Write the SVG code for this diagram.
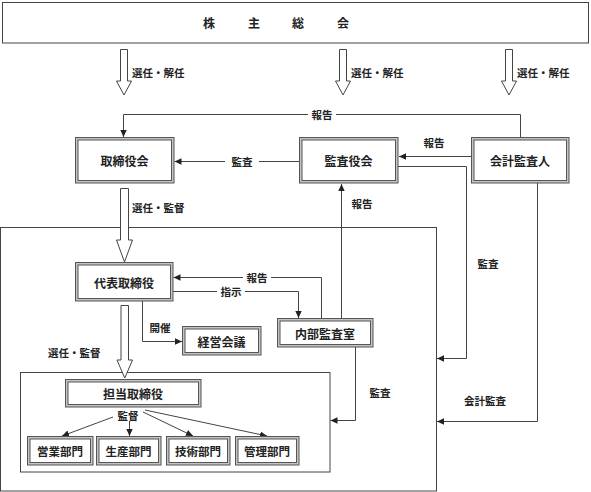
<svg xmlns="http://www.w3.org/2000/svg" width="591" height="492" viewBox="0 0 591 492">
<defs>
<style>
text{font-family:"Noto Sans CJK JP","Noto Sans CJK SC",sans-serif;fill:#222;font-weight:bold;dominant-baseline:central;text-anchor:middle}
.lbl{font-size:10.5px}
.bx{font-size:12px}
.dp{font-size:11.5px}
.o{fill:#c4c4c4;stroke:#555;stroke-width:1}
.i{fill:#fff;stroke:#555;stroke-width:1}
.frame{fill:none;stroke:#444;stroke-width:1}
.c{fill:none;stroke:#444;stroke-width:1}
.ha{fill:#fff;stroke:#444;stroke-width:1}
.bg{fill:#fff}
</style>
<marker id="ah" markerUnits="userSpaceOnUse" markerWidth="8" markerHeight="8" viewBox="0 0 8 8" refX="7" refY="4" orient="auto">
<path d="M0,0.8 L7,4 L0,7.2 z" fill="#222"/>
</marker>
</defs>

<g id="shareholders">
<rect class="frame" x="2.5" y="2.5" width="586" height="40.5"/>
<text class="bx" x="209" y="22">株</text>
<text class="bx" x="254" y="22">主</text>
<text class="bx" x="298" y="22">総</text>
<text class="bx" x="343" y="22">会</text>
</g>

<g id="outer-frame"><rect class="frame" x="0.5" y="227.5" width="436" height="263.5"/></g>
<g id="inner-frame"><rect class="frame" x="20.5" y="372.5" width="309.5" height="99.5"/></g>

<g id="hollow-arrows">
<polygon class="ha" points="120.5,49.5 127.5,49.5 127.5,81 131.5,81 124,95 116.5,81 120.5,81"/>
<polygon class="ha" points="339.5,49.5 346.5,49.5 346.5,81 350.5,81 343,95 335.5,81 339.5,81"/>
<polygon class="ha" points="505.5,49.5 512.5,49.5 512.5,81 516.5,81 509,95 501.5,81 505.5,81"/>
<polygon class="ha" points="120.5,188.5 128.5,188.5 128.5,240 132.5,240 124.5,262 116.5,240 120.5,240"/>
<polygon class="ha" points="121,305.5 128.5,305.5 128.5,360 132.5,360 124.75,378 117,360 121,360"/>
<text class="lbl" x="132" y="72" style="text-anchor:start">選任・解任</text>
<text class="lbl" x="351" y="72" style="text-anchor:start">選任・解任</text>
<text class="lbl" x="517" y="72" style="text-anchor:start">選任・解任</text>
<text class="lbl" x="132" y="207" style="text-anchor:start">選任・監督</text>
<text class="lbl" x="48" y="352" style="text-anchor:start">選任・監督</text>
</g>

<g id="connectors">
<path class="c" d="M520.5,137 V114.5 H123.5 V137" marker-end="url(#ah)"/>
<rect class="bg" x="308" y="108" width="28" height="13"/>
<text class="lbl" x="322" y="114.5">報告</text>

<path class="c" d="M299,161.5 H174.5" marker-end="url(#ah)"/>
<rect class="bg" x="225" y="155" width="34" height="13"/>
<text class="lbl" x="242" y="161.5">監査</text>

<path class="c" d="M471,156.5 H399" marker-end="url(#ah)"/>
<text class="lbl" x="434" y="142">報告</text>

<path class="c" d="M398,166.5 H466.5 V358.5 H437" marker-end="url(#ah)"/>
<text class="lbl" x="488" y="263">監査</text>

<path class="c" d="M537.5,183 V421.5 H437" marker-end="url(#ah)"/>
<text class="lbl" x="485" y="400">会計監査</text>

<path class="c" d="M341.5,318 V184" marker-end="url(#ah)"/>
<text class="lbl" x="362" y="203">報告</text>

<path class="c" d="M321.5,318 V277.5 H173.5" marker-end="url(#ah)"/>
<rect class="bg" x="243" y="271" width="28" height="13"/>
<text class="lbl" x="257" y="277.5">報告</text>

<path class="c" d="M173,291.5 H298.5 V318" marker-end="url(#ah)"/>
<rect class="bg" x="217" y="285" width="28" height="13"/>
<text class="lbl" x="231" y="291.5">指示</text>

<path class="c" d="M142.5,301 V341.5 H182" marker-end="url(#ah)"/>
<text class="lbl" x="160" y="327">開催</text>

<path class="c" d="M355.5,347 V420.5 H330.5" marker-end="url(#ah)"/>
<text class="lbl" x="380" y="392">監査</text>

<path class="c" d="M113,417 L62,436" marker-end="url(#ah)"/>
<path class="c" d="M129.5,421 V436" marker-end="url(#ah)"/>
<path class="c" d="M143,412 L193,436" marker-end="url(#ah)"/>
<path class="c" d="M145,410 L267,436" marker-end="url(#ah)"/>
<text class="lbl" x="128" y="415">監督</text>
</g>

<g id="board">
<rect class="o" x="75.5" y="137.5" width="98.5" height="45.5"/>
<rect class="i" x="78" y="140" width="93.5" height="40.5"/>
<text class="bx" x="124.5" y="160.5">取締役会</text>
</g>
<g id="auditors">
<rect class="o" x="299.5" y="137.5" width="98.5" height="45.5"/>
<rect class="i" x="302" y="140" width="93.5" height="40.5"/>
<text class="bx" x="348.5" y="160.5">監査役会</text>
</g>
<g id="accounting-auditor">
<rect class="o" x="471.5" y="137.5" width="97.5" height="45.5"/>
<rect class="i" x="474" y="140" width="92.5" height="40.5"/>
<text class="bx" x="520" y="160.5">会計監査人</text>
</g>
<g id="representative">
<rect class="o" x="75.5" y="262.5" width="97.5" height="38.5"/>
<rect class="i" x="78" y="265" width="92.5" height="33.5"/>
<text class="bx" x="124" y="282">代表取締役</text>
</g>
<g id="internal-audit">
<rect class="o" x="277.5" y="318.5" width="95.5" height="28.5"/>
<rect class="i" x="280" y="321" width="90.5" height="23.5"/>
<text class="bx" x="325" y="333">内部監査室</text>
</g>
<g id="management-meeting">
<rect class="o" x="182.5" y="326.5" width="78.5" height="28.5"/>
<rect class="i" x="185" y="329" width="73.5" height="23.5"/>
<text class="bx" x="221.5" y="341">経営会議</text>
</g>
<g id="director-in-charge">
<rect class="o" x="65.5" y="379.5" width="135.5" height="27.5"/>
<rect class="i" x="68" y="382" width="130.5" height="22.5"/>
<text class="bx" x="133" y="393">担当取締役</text>
</g>
<g id="sales">
<rect class="o" x="27.5" y="436.5" width="65.5" height="28.5"/>
<rect class="i" x="30" y="439" width="60.5" height="23.5"/>
<text class="dp" x="60" y="451">営業部門</text>
</g>
<g id="production">
<rect class="o" x="96.5" y="436.5" width="64.5" height="28.5"/>
<rect class="i" x="99" y="439" width="59.5" height="23.5"/>
<text class="dp" x="128.5" y="451">生産部門</text>
</g>
<g id="technology">
<rect class="o" x="166.5" y="436.5" width="63.5" height="28.5"/>
<rect class="i" x="169" y="439" width="58.5" height="23.5"/>
<text class="dp" x="198" y="451">技術部門</text>
</g>
<g id="administration">
<rect class="o" x="235.5" y="436.5" width="63.5" height="28.5"/>
<rect class="i" x="238" y="439" width="58.5" height="23.5"/>
<text class="dp" x="267" y="451">管理部門</text>
</g>
</svg>
